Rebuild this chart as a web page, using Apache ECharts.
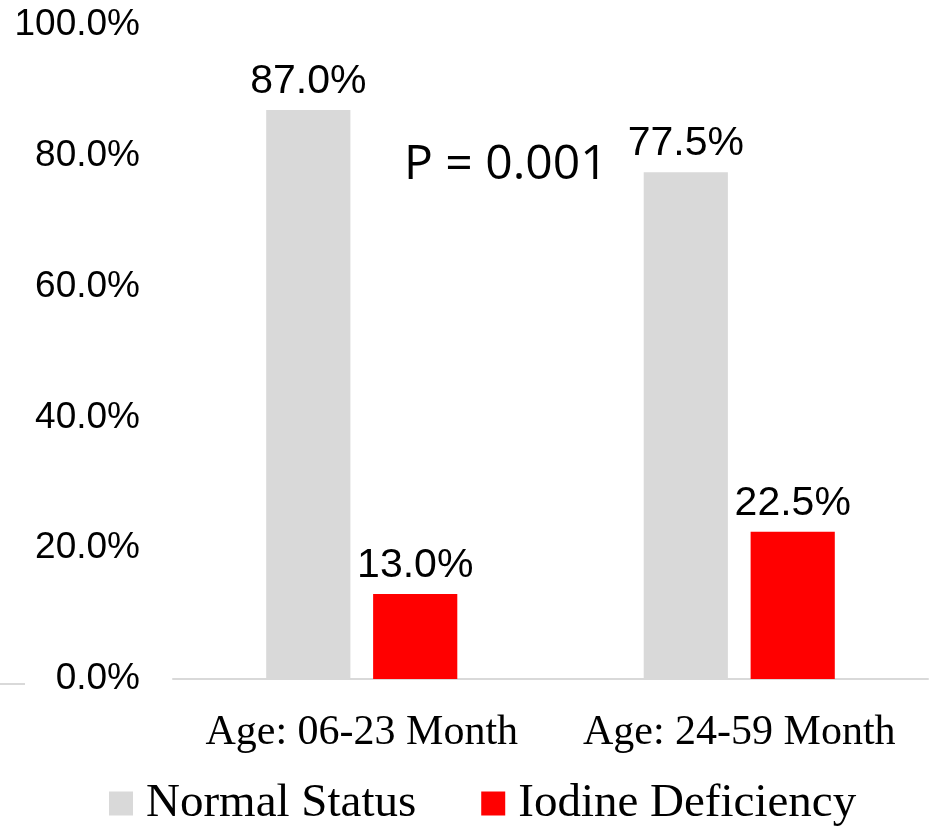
<!DOCTYPE html>
<html>
<head>
<meta charset="utf-8">
<script src="https://cdn.jsdelivr.net/npm/echarts@6/dist/echarts.min.js"></script>
<style>
html,body{margin:0;padding:0;background:#fff;}
#chart{width:932px;height:826px;}
</style>
</head>
<body>
<div id="chart"></div>
<script>
// Age groups and share of children in each iodine status (%)
const categories = ['Age: 06-23 Month', 'Age: 24-59 Month'];
const normalStatus = [87.0, 77.5];
const iodineDeficiency = [13.0, 22.5];
const yTicks = { min: 0, max: 100, interval: 20 };
const pValueText = 'P = 0.001';

const chart = echarts.init(document.getElementById('chart'));

const labelStyle = {
  show: true,
  position: 'top',
  distance: 8,
  fontFamily: 'Liberation Sans, Arial, sans-serif',
  fontSize: 41,
  color: '#000',
  formatter: p => p.value.toFixed(1) + '%'
};

chart.setOption({
  animation: false,
  backgroundColor: '#fff',
  grid: { left: 173, right: 4, top: 25, bottom: 147, containLabel: false },
  legend: {
    left: 109,
    top: 780,
    padding: 0,
    itemWidth: 24,
    itemHeight: 24,
    itemGap: 65,
    icon: 'rect',
    textStyle: { fontFamily: 'Liberation Serif, Times New Roman, serif', fontSize: 47, color: '#000', padding: [0, 0, 0, 8] },
    data: ['Normal Status', 'Iodine Deficiency']
  },
  xAxis: {
    type: 'category',
    data: categories,
    axisLine: { lineStyle: { color: '#d9d9d9', width: 2 } },
    axisTick: { show: false },
    axisLabel: {
      interval: 0,
      hideOverlap: false,
      margin: 33,
      fontFamily: 'Liberation Serif, Times New Roman, serif',
      fontSize: 42,
      color: '#000'
    }
  },
  yAxis: {
    type: 'value',
    min: yTicks.min,
    max: yTicks.max,
    interval: yTicks.interval,
    splitLine: { show: false },
    axisLine: { show: false },
    axisTick: { show: false },
    axisLabel: {
      margin: 33,
      fontFamily: 'Liberation Sans, Arial, sans-serif',
      fontSize: 37,
      color: '#000',
      formatter: v => v.toFixed(1) + '%'
    }
  },
  series: [
    {
      name: 'Normal Status',
      type: 'bar',
      data: normalStatus,
      barWidth: '22.3%',
      barGap: '27%',
      itemStyle: { color: '#d9d9d9' },
      label: labelStyle
    },
    {
      name: 'Iodine Deficiency',
      type: 'bar',
      data: iodineDeficiency,
      barWidth: '22.3%',
      itemStyle: { color: '#ff0000' },
      label: labelStyle
    }
  ],
  graphic: [
    {
      type: 'text',
      left: 404,
      top: 141,
      style: {
        text: pValueText,
        fontFamily: 'Open Sans, Carlito, sans-serif',
        fontSize: 48,
        fill: '#000'
      }
    },
    {
      type: 'line',
      shape: { x1: 0, y1: 684, x2: 25, y2: 684 },
      style: { stroke: '#d9d9d9', lineWidth: 2 }
    }
  ]
});
</script>
</body>
</html>
